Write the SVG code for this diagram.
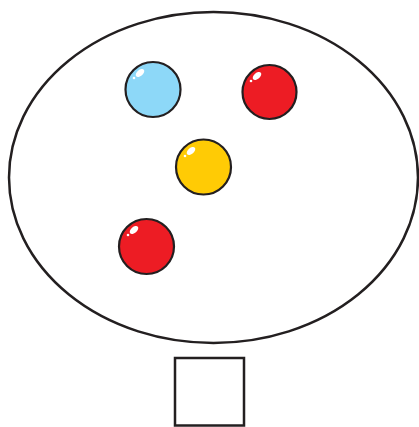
<svg xmlns="http://www.w3.org/2000/svg" width="419" height="427" viewBox="0 0 419 427">
<style>
.ln{fill:none;stroke:#231f20;stroke-width:2.5}
.ball{stroke:#231f20;stroke-width:2.2}
.hl{fill:#fff}
</style>
<defs>
<g id="shine"><ellipse class="hl" cx="0" cy="0" rx="5" ry="3" transform="rotate(-40)"/><circle class="hl" cx="-6" cy="5" r="1.3"/></g>
</defs>
<rect width="419" height="427" fill="#fff"/>
<g id="bowl"><ellipse class="ln" cx="213.5" cy="177.5" rx="204.5" ry="165.5"/></g>
<g id="box"><rect class="ln" x="175" y="358" width="69" height="67.5"/></g>
<g id="ball-blue"><circle class="ball" cx="153" cy="89.5" r="27.5" fill="#8dd8f8"/><use href="#shine" x="140" y="73"/></g>
<g id="ball-red1"><circle class="ball" cx="269.5" cy="92" r="27" fill="#ed1c24"/><use href="#shine" x="257" y="76"/></g>
<g id="ball-yellow"><circle class="ball" cx="203.5" cy="167" r="27.5" fill="#ffcb05"/><use href="#shine" x="191" y="151"/></g>
<g id="ball-red2"><circle class="ball" cx="146.5" cy="246.5" r="27.5" fill="#ed1c24"/><use href="#shine" x="134" y="230"/></g>
</svg>
